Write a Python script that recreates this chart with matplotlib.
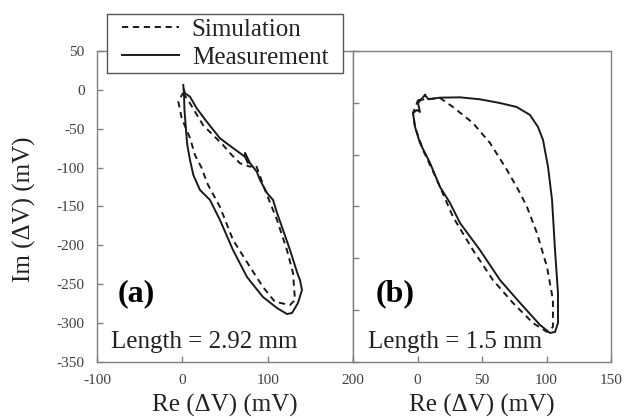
import matplotlib
matplotlib.use("Agg")
import matplotlib.pyplot as plt
from matplotlib.patches import Rectangle
import numpy as np

plt.rcParams["font.family"] = ["Liberation Serif", "DejaVu Serif"]
plt.rcParams["axes.unicode_minus"] = False

# panel (a), length = 2.92 mm  (Re, Im in mV)
meas_a_re = [1.1, 2, 2.5, 4.3, 5.8, 9, 12.9, 20.7, 32.4, 44.1, 59.4, 75.8, 94.5, 111,
             122.6, 128.5, 135.5, 140.2, 137.9, 135.5, 126.2, 118, 111, 106.3, 99.2,
             91, 87.2, 79.3, 73.4, 77, 73.4, 59.4, 44.1, 28.6, 16.8, 9, 3.1, 2]
meas_a_im = [6.3, -6.6, -25.9, -51.6, -70.9, -90.2, -109.5, -128.8, -141.6, -167.4,
             -206, -240.7, -266.4, -280.6, -288.3, -287, -274.1, -257.4, -244.5,
             -238.1, -206, -180.2, -158.4, -141.6, -132.6, -115.9, -105.2, -94.1,
             -81.2, -94, -86, -74.8, -62.3, -40.9, -23.7, -8.8, -4.4, 0]
sim_a_re = [0.8, 9, 24.2, 35.9, 47.7, 57.9, 67.6, 79.3, 86.3, 96.9, 111, 122.6, 129.7,
            132, 126.2, 114.5, 108.6, 94.5, 79.3, 59.4, 44.1, 29, 22.7, 14.8, 9,
            -0.7, -4.7, 0.8]
sim_a_im = [-4, -17.3, -45.2, -58, -70.9, -83.8, -94.4, -98.8, -96.6, -128.8, -167.4,
            -206, -235.5, -270.3, -276.7, -274, -272.8, -253.5, -227.8, -193, -150.6,
            -119.8, -100.5, -83.8, -61.9, -36.6, -15.2, -4]

# panel (b), length = 1.5 mm
meas_b_re = [5.8, 8.4, 17.4, 33, 48.4, 64, 76.9, 87.2, 93.4, 97.3, 101.2, 104.3, 106.6,
             108.9, 108.9, 106.6, 102.7, 95, 79.5, 64, 48.4, 33, 25.2, 17.4, 9.7, 1.9,
             -1.9, -3.5, -0.4, 1.9, 0.4, 5.8]
meas_b_im = [-42.4, -46.6, -45, -44.7, -46.6, -50.2, -54, -61.7, -73.3, -85.8, -111.9,
             -143.7, -192, -233.4, -262.4, -271, -272, -264.3, -243, -221, -192, -166,
             -146.6, -131, -108, -88.7, -73.3, -59.8, -56.9, -58.8, -50.2, -42.4]
sim_b_re = [0.4, 17.4, 27.5, 43, 56.2, 69.4, 79.5, 84.9, 92.6, 100.4, 105, 105, 100.4,
            89.5, 74, 58.5, 43, 27.5, 15.1, 4.3, -1.9, -3.5, -0.4, 0.4]
sim_b_im = [-47.3, -45.3, -54, -69.5, -88.7, -114.8, -137, -150.5, -175.6, -208.4,
            -240.2, -266.2, -271, -262.4, -243, -221, -192, -160, -124.4, -95.5,
            -73.3, -59.8, -50.2, -47.3]

W, H = 624, 418
fig = plt.figure(figsize=(W / 100, H / 100), dpi=100)
ax1 = fig.add_axes([97 / W, 56 / H, 256 / W, 311 / H])
ax2 = fig.add_axes([353 / W, 56 / H, 258 / W, 311 / H])

line_kw = dict(color="#1a1a1a", lw=1.4)
dash = (0, (3.2, 2.4))

ax1.plot(sim_a_re, sim_a_im, linestyle=dash, label="Simulation", **line_kw)
ax1.plot(meas_a_re, meas_a_im, linestyle="-", label="Measurement", **line_kw)
ax2.plot(sim_b_re, sim_b_im, linestyle=dash, **line_kw)
ax2.plot(meas_b_re, meas_b_im, linestyle="-", **line_kw)

ax1.set_xlim(-100, 200)
ax1.set_ylim(-350, 50)
ax1.set_xticks([-100, 0, 100, 200])
ax1.set_yticks(np.arange(-350, 51, 50))

ax2.set_xlim(-50, 150)
ax2.set_ylim(-300, 0)
ax2.set_xticks([-50, 0, 50, 100, 150])
ax2.set_xticklabels(["", "0", "50", "100", "150"])
ax2.set_yticks(np.arange(-300, 1, 50))
ax2.set_yticklabels([])

for ax in (ax1, ax2):
    for s in ax.spines.values():
        s.set_color("#808080")
        s.set_linewidth(1.0)
    ax.tick_params(direction="in", length=4, width=1, color="#808080",
                   labelcolor="#404040", labelsize=11, pad=9)
    ax.set_xlabel("Re (ΔV) (mV)", fontsize=18, color="#222222")
    ax.xaxis.set_label_coords(0.5, -0.102)

ax1.set_ylabel("Im (ΔV) (mV)", fontsize=18, color="#222222")
ax1.yaxis.set_label_coords(-0.24, 0.49)

ax1.text(0.154, 0.219, "(a)", transform=ax1.transAxes, fontsize=23,
         fontweight="bold", ha="center", va="center")
ax1.text(0.055, 0.064, "Length = 2.92 mm", transform=ax1.transAxes, fontsize=18,
         ha="left", va="center", color="#222222")
ax2.text(0.163, 0.219, "(b)", transform=ax2.transAxes, fontsize=23,
         fontweight="bold", ha="center", va="center")
ax2.text(0.058, 0.064, "Length = 1.5 mm", transform=ax2.transAxes, fontsize=18,
         ha="left", va="center", color="#222222")

# legend box sits above the plots, drawn as a separate frame
box = (107 / W, 1 - 73 / H, 236 / W, 59 / H)
leg = fig.legend(*ax1.get_legend_handles_labels(), loc="center",
                 bbox_to_anchor=box, fontsize=18, frameon=False,
                 handlelength=2.3, handletextpad=0.5, borderpad=0.0,
                 labelspacing=0.22, borderaxespad=0)
for t in leg.get_texts():
    t.set_color("#222222")
fig.patches.append(Rectangle(box[:2], box[2], box[3], transform=fig.transFigure,
                             fill=True, facecolor="white", edgecolor="#555555",
                             lw=1.0, zorder=5))
leg.set_zorder(6)

fig.savefig("out.png", dpi=100)
